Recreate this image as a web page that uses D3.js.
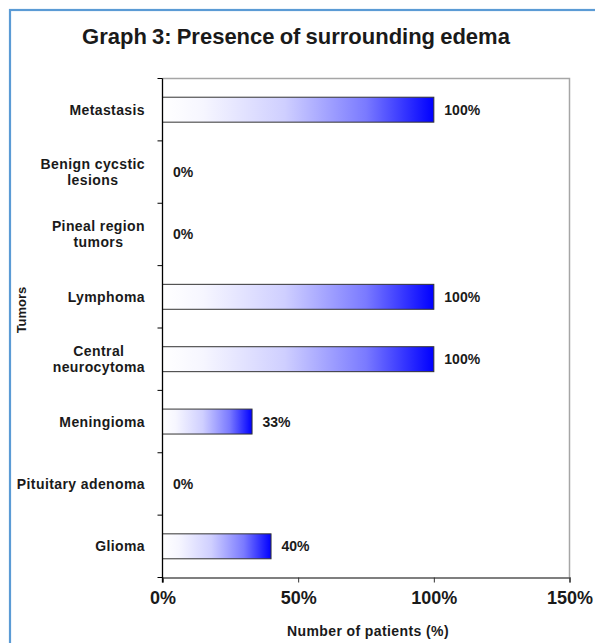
<!DOCTYPE html>
<html>
<head>
<meta charset="utf-8">
<script src="https://cdn.jsdelivr.net/npm/d3@7"></script>
<style>
  body { margin: 0; background: #fff; }
  text { font-family: "Liberation Sans", Arial, sans-serif; font-weight: bold; fill: #1a1a1a; }
</style>
</head>
<body>
<div id="chart"></div>
<script>
// Data
const categories = [
    ["Metastasis"],
    ["Benign cycstic", "lesions"],
    ["Pineal region", "tumors"],
    ["Lymphoma"],
    ["Central", "neurocytoma"],
    ["Meningioma"],
    ["Pituitary adenoma"],
    ["Glioma"]
];
const values = [100, 0, 0, 100, 100, 33, 0, 40];
const xTicks = [0, 50, 100, 150];

const width = 595, height = 643;
const plot = { left: 162.5, right: 569.5, top: 78.5, bottom: 577.5 };

const svg = d3.select("#chart")
    .append("svg")
    .attr("width", width)
    .attr("height", height);

// blue outer frame
svg.append("rect")
    .attr("x", 10)
    .attr("y", 10)
    .attr("width", 700)
    .attr("height", 700)
    .style("fill", "none")
    .style("stroke", "#5b9bd5")
    .style("stroke-width", 2.2);

// Scales
const x = d3.scaleLinear()
    .domain([0, 150])
    .range([plot.left, plot.right]);

const y = d3.scaleBand()
    .domain(d3.range(categories.length))
    .range([plot.top, plot.bottom])
    .paddingInner(0.6)
    .paddingOuter(0.3);

// gradient for bars
const defs = svg.append("defs");
const grad = defs.append("linearGradient")
    .attr("id", "bar-gradient")
    .attr("x1", "0%").attr("x2", "100%")
    .attr("y1", "0%").attr("y2", "0%");
[[0, "#ffffff"], [0.15, "#f6f6ff"], [0.45, "#cfcfff"], [0.75, "#7a7aff"], [1, "#0000ff"]]
    .forEach(s => grad.append("stop").attr("offset", s[0]).style("stop-color", s[1]));

// Title
svg.append("text")
    .attr("x", 296)
    .attr("y", 44)
    .attr("text-anchor", "middle")
    .style("font-size", "22px")
    .style("word-spacing", "-1px")
    .text("Graph 3: Presence of surrounding edema");

// plot frame (top and right)
svg.append("path")
    .attr("d", `M${plot.left},${plot.top}H${plot.right}V${plot.bottom}`)
    .style("fill", "none")
    .style("stroke", "#a6a6a6")
    .style("stroke-width", 1.5);

// Bars (zero values draw nothing)
values.forEach((v, i) => {
    if (v <= 0) return;
    svg.append("rect")
        .attr("class", "bar")
        .attr("x", x(0))
        .attr("y", y(i))
        .attr("height", y.bandwidth())
        .attr("width", x(v) - x(0))
        .style("fill", "url(#bar-gradient)")
        .style("stroke", "#333")
        .style("stroke-width", 1);
});

// value labels
svg.selectAll(".val")
    .data(values)
    .enter()
    .append("text")
    .attr("class", "val")
    .attr("x", d => x(d) + 10.5)
    .attr("y", (d, i) => y(i) + y.bandwidth() / 2)
    .attr("dy", "0.36em")
    .style("font-size", "14px")
    .text(d => d + "%");

// x axis
const xAxis = svg.append("g")
    .attr("transform", `translate(0,${plot.bottom})`)
    .call(d3.axisBottom(x).tickValues(xTicks).tickSize(5).tickFormat(d => d + "%"));
xAxis.select(".domain").attr("stroke", "#555").attr("stroke-width", 1.5);
xAxis.selectAll(".tick line").attr("stroke", "#333");
xAxis.selectAll(".tick text")
    .attr("y", 14)
    .style("font-size", "18px")
    .style("font-family", "Liberation Sans, Arial, sans-serif")
    .style("font-weight", "bold")
    .attr("fill", "#1a1a1a");

// y axis line + ticks at category boundaries
const step = y.step();
svg.append("line")
    .attr("x1", plot.left).attr("x2", plot.left)
    .attr("y1", plot.top).attr("y2", plot.bottom + 5)
    .style("stroke", "#000").style("stroke-width", 1.3);
svg.selectAll(".ytick")
    .data(d3.range(categories.length + 1))
    .enter()
    .append("line")
    .attr("x1", plot.left - 5).attr("x2", plot.left)
    .attr("y1", i => plot.top + i * step)
    .attr("y2", i => plot.top + i * step)
    .style("stroke", "#000").style("stroke-width", 1);

// category labels: right aligned block, lines centred inside it
const labelRight = 145;
categories.forEach((lines, i) => {
    const cy = y(i) + y.bandwidth() / 2;
    const t = svg.append("text")
        .attr("text-anchor", "middle")
        .style("font-size", "14px")
        .style("letter-spacing", "0.4px");
    lines.forEach((line, j) => {
        t.append("tspan")
            .attr("x", 0)
            .attr("y", cy + (j - (lines.length - 1) / 2) * 16)
            .attr("dy", "0.36em")
            .text(line);
    });
    const w = t.node().getBBox().width;
    t.attr("transform", `translate(${labelRight - w / 2},0)`);
});

// axis titles
svg.append("text")
    .attr("x", (plot.left + plot.right) / 2 + 2)
    .attr("y", 636)
    .attr("text-anchor", "middle")
    .style("font-size", "14px")
    .style("letter-spacing", "0.4px")
    .text("Number of patients (%)");

svg.append("text")
    .attr("transform", "translate(26,310) rotate(-90)")
    .attr("text-anchor", "middle")
    .style("font-size", "13px")
    .text("Tumors");
</script>
</body>
</html>
